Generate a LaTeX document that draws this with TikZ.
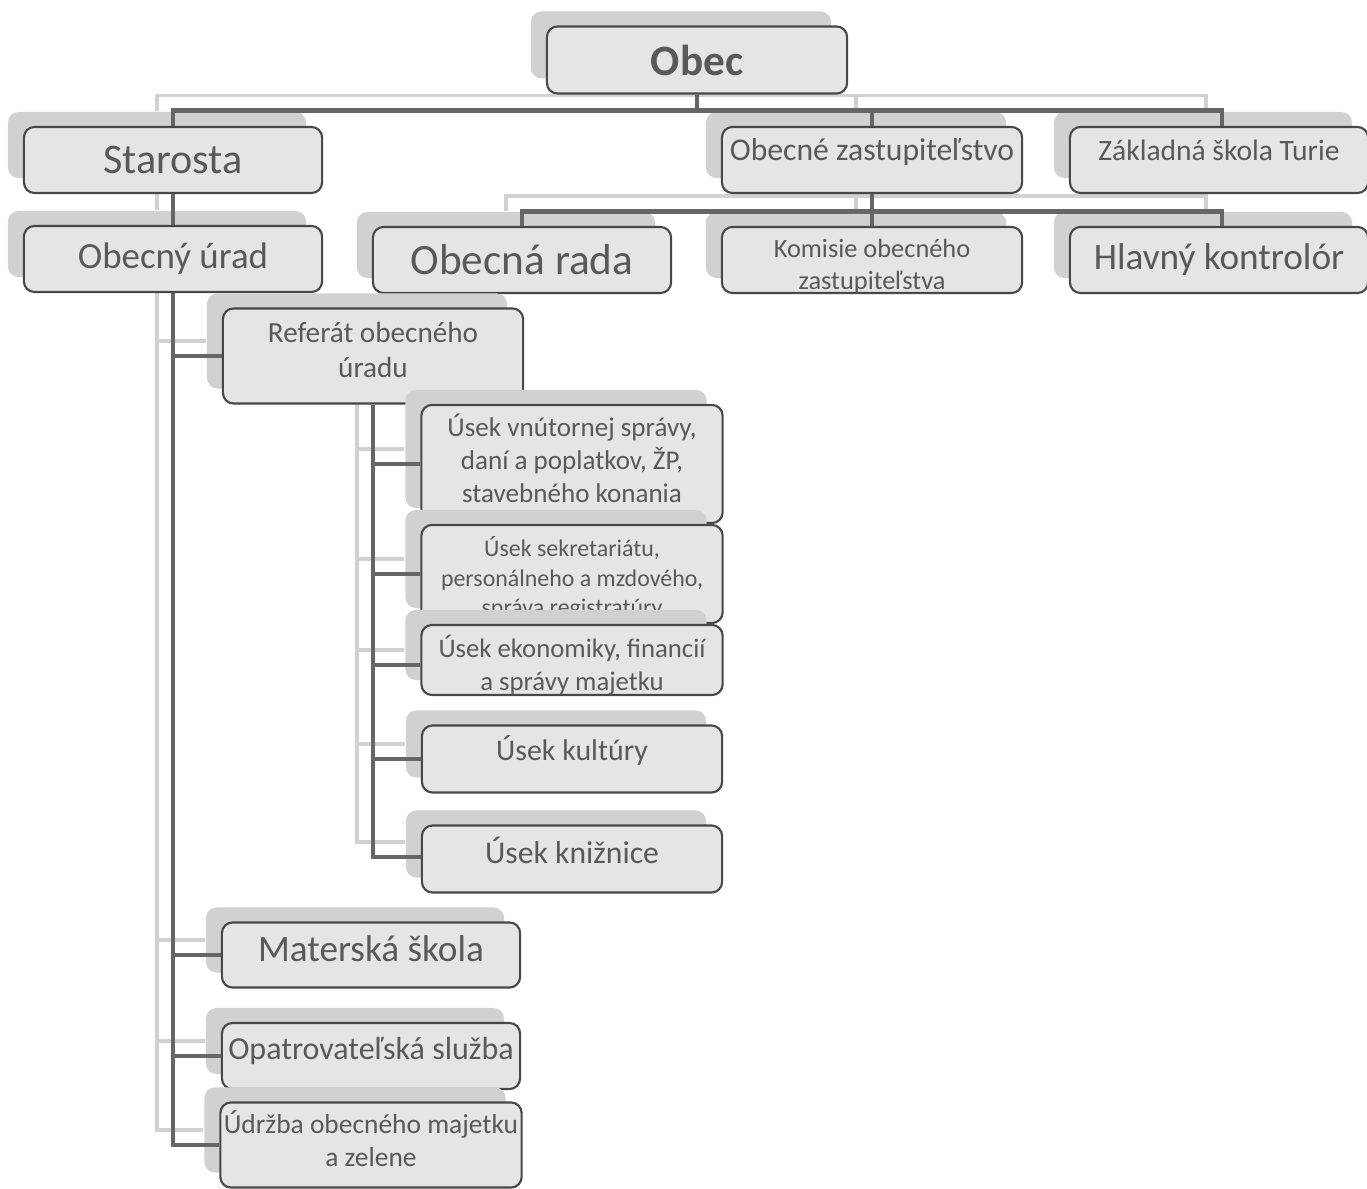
\documentclass[tikz,border=0pt]{standalone}
\usepackage{fontspec}
\setmainfont{Carlito}
\usetikzlibrary{shadows,backgrounds}

\tikzset{
  box/.style={draw=black!72, fill=black!10, rounded corners=3pt, line width=0.6pt,
    text=black!65, align=center, inner sep=1pt,
    minimum width=2.98cm, minimum height=0.66cm,
    general shadow={fill=black!18, shadow xshift=-0.16cm, shadow yshift=0.15cm}},
  link/.style={draw=black!60, line width=1.4pt},
  glink/.style={draw=black!18, line width=1.1pt},
}

% spoje organizacnej struktury
\newcommand{\orglinks}[1]{%
  % Obec -> prva uroven
  \draw[#1] (obec.south) -- ++(0,16) -| (starosta.north);
  \draw[#1] (obec.south) -- ++(0,16) -| (zastup.north);
  \draw[#1] (obec.south) -- ++(0,16) -| ([xshift=0.03cm]skola.north);
  % Starosta -> Obecny urad
  \draw[#1] (starosta.south) -- (urad.north);
  % Obecne zastupitelstvo -> druha uroven
  \draw[#1] (zastup.south) -- ++(0,17) -| (rada.north);
  \draw[#1] (zastup.south) -- ++(0,17) -| (komisie.north);
  \draw[#1] (zastup.south) -- ++(0,17) -| ([xshift=0.03cm]kontrolor.north);
  % Obecny urad -> podriadene
  \draw[#1] (urad.south) |- (referat.west);
  \draw[#1] (urad.south) |- (materska.west);
  \draw[#1] (urad.south) |- (opatr.west);
  \draw[#1] (urad.south) |- (udrzba.west);
  % Referat -> useky
  \draw[#1] (referat.south) |- (vnutorna.west);
  \draw[#1] (referat.south) |- (sekretariat.west);
  \draw[#1] (referat.south) |- ([yshift=-0.05cm]ekonomika.west);
  \draw[#1] (referat.south) |- (kultura.west);
  \draw[#1] (referat.south) |- ([yshift=0.02cm]kniznica.west);
}

\begin{document}
\begin{tikzpicture}[x=0.01cm, y=-0.01cm]
  \useasboundingbox (0,0) rectangle (1367,1189);

  % Obec
  \node[box, minimum width=3cm, minimum height=0.67cm,
        font=\bfseries\fontsize{12.3}{15}\selectfont] (obec) at (697,60) {Obec};

  % prva uroven
  \node[box, font=\fontsize{12}{14}\selectfont] (starosta) at (173,160) {Starosta};
  \node[box, minimum width=3cm, text depth=0.2cm,
        font=\fontsize{9}{11}\selectfont] (zastup) at (872,160) {Obecné zastupiteľstvo};
  \node[box, text depth=0.2cm,
        font=\fontsize{8.4}{10}\selectfont] (skola) at (1219,160) {Základná škola Turie};

  % druha uroven
  \node[box, font=\fontsize{10.5}{12}\selectfont] (urad) at (173,259) {Obecný úrad};
  \node[box, font=\fontsize{12.3}{14}\selectfont] (rada) at (522,260) {Obecná rada};
  \node[box, minimum width=3cm, text height=0.64cm, inner ysep=-0.2cm,
        font=\fontsize{7.5}{9.2}\selectfont] (komisie) at (872,260) {Komisie obecného\\zastupiteľstva};
  \node[box, font=\fontsize{10.6}{12}\selectfont] (kontrolor) at (1219,260) {Hlavný kontrolór};

  % referat a useky
  \node[box, minimum width=3cm, minimum height=0.95cm, text height=0.44cm,
        font=\fontsize{8.3}{10}\selectfont] (referat) at (373,356) {Referát obecného\\úradu};
  \node[box, minimum width=3.01cm, minimum height=1.18cm, text height=0.78cm,
        font=\fontsize{7.7}{9.4}\selectfont] (vnutorna) at (572,464)
        {Úsek vnútornej správy,\\daní a poplatkov, ŽP,\\stavebného konania};
  \node[box, minimum width=3.01cm, minimum height=0.98cm, text height=0.88cm, inner ysep=-0.1cm,
        font=\fontsize{6.8}{8.5}\selectfont] (sekretariat) at (572,574)
        {Úsek sekretariátu,\\personálneho a mzdového,\\správa registratúry};
  \node[box, minimum width=3.01cm, minimum height=0.70cm, text height=0.66cm, inner ysep=-0.15cm,
        font=\fontsize{7.6}{9.4}\selectfont] (ekonomika) at (572,660)
        {Úsek ekonomiky, financií\\a správy majetku};
  \node[box, minimum width=3cm, minimum height=0.67cm, text depth=0.22cm,
        font=\fontsize{8.5}{10}\selectfont] (kultura) at (572,759) {Úsek kultúry};
  \node[box, minimum width=3cm, minimum height=0.67cm, text depth=0.18cm,
        font=\fontsize{9}{11}\selectfont] (kniznica) at (572,859) {Úsek knižnice};

  % dalsie zlozky obecneho uradu
  \node[box, minimum height=0.65cm, text depth=0.12cm,
        font=\fontsize{10.6}{12}\selectfont] (materska) at (371,955) {Materská škola};
  \node[box, text depth=0.16cm,
        font=\fontsize{9.1}{11}\selectfont] (opatr) at (371,1056) {Opatrovateľská služba};
  \node[box, minimum height=0.85cm, text height=0.44cm,
        font=\fontsize{7.8}{9.4}\selectfont] (udrzba) at (371,1145)
        {Údržba obecného majetku\\a zelene};

  % svetle tiene spojov
  \begin{scope}[on background layer]
    \begin{scope}[transform canvas={shift={(-16,-15)}}]
      \orglinks{glink}
    \end{scope}
  \end{scope}

  % tmave spoje
  \orglinks{link}
\end{tikzpicture}
\end{document}
